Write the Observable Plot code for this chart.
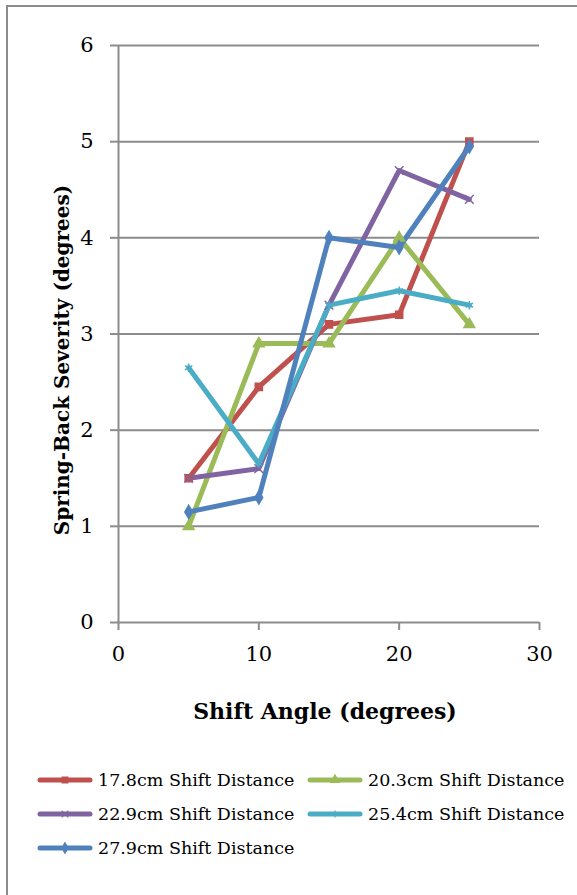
<!DOCTYPE html>
<html><head><meta charset="utf-8">
<script src="https://cdn.jsdelivr.net/npm/d3@7"></script>
<script src="https://cdn.jsdelivr.net/npm/@observablehq/plot@0.6"></script>
<style>
body{margin:0;background:#fff;}
#wrap{position:relative;width:577px;height:895px;overflow:hidden;font-family:"DejaVu Serif",serif;background:#fff;}
#border{position:absolute;left:6px;top:5px;width:700px;height:1000px;border-top:2px solid #8c8c8c;border-left:2px solid #8c8c8c;}
#chart{position:absolute;left:0;top:0;}
.item{position:absolute;height:20px;display:flex;align-items:center;font-size:17.5px;color:#000;white-space:nowrap;}
.item svg{margin-right:5px;}
</style></head>
<body>
<div id="wrap"><div id="border"></div><div id="chart"></div><div id="legend"></div></div>
<script>
const angles = [5, 10, 15, 20, 25];
const seriesNames = ["17.8cm Shift Distance", "20.3cm Shift Distance", "22.9cm Shift Distance", "25.4cm Shift Distance", "27.9cm Shift Distance"];
const s178 = [1.5, 2.45, 3.1, 3.2, 5.0];
const s203 = [1.0, 2.9, 2.9, 4.0, 3.1];
const s229 = [1.5, 1.6, 3.3, 4.7, 4.4];
const s254 = [2.65, 1.65, 3.3, 3.45, 3.3];
const s279 = [1.15, 1.3, 4.0, 3.9, 4.95];
const yTicks = [0, 1, 2, 3, 4, 5, 6];
const xTicks = [0, 10, 20, 30];
const xTitle = "Shift Angle (degrees)";
const yTitle = "Spring-Back Severity (degrees)";
const colors = ["#C0504D", "#9BBB59", "#8064A2", "#4BACC6", "#4F81BD"];
const symbols = ["square", "triangle", "times", "asterisk", "diamond"];

const allValues = [s178, s203, s229, s254, s279];
const data = [];
allValues.forEach((vals, i) => vals.forEach((v, j) => data.push({series: seriesNames[i], angle: angles[j], value: v})));

const font = "'DejaVu Serif', serif";
const chart = Plot.plot({
  width: 577, height: 745,
  marginLeft: 118, marginRight: 38, marginTop: 45, marginBottom: 123,
  x: {domain: [0, 30]},
  y: {domain: [0, 6]},
  color: {domain: seriesNames, range: colors},
  symbol: {domain: seriesNames, range: symbols},
  style: {fontFamily: font, background: "transparent", color: "black"},
  marks: [
    Plot.gridY(yTicks, {stroke: "#8c8c8c", strokeOpacity: 1, strokeWidth: 2}),
    Plot.ruleX([0], {stroke: "#8c8c8c", strokeWidth: 2}),
    Plot.axisY(yTicks, {tickSize: 8, tickPadding: 17, tickFormat: d3.format("d"), stroke: "#8c8c8c", strokeWidth: 2, fill: "black", fontSize: 21, label: null}),
    Plot.axisX(xTicks, {tickSize: 8, tickPadding: 16, tickFormat: d3.format("d"), stroke: "#8c8c8c", strokeWidth: 2, fill: "black", fontSize: 21, label: null}),
    Plot.line(data, {x: "angle", y: "value", z: "series", stroke: "series", strokeWidth: 5, strokeLinejoin: "round", strokeLinecap: "round"}),
    Plot.dot(data, {x: "angle", y: "value", symbol: "series", stroke: "series", fill: "series", r: 4, strokeWidth: 1.5}),
    Plot.text([xTitle], {frameAnchor: "bottom", dy: 96, dx: -4, text: d => d, fontSize: 22, fontWeight: "bold", fill: "black", textAnchor: "middle"}),
    Plot.text([yTitle], {frameAnchor: "left", rotate: -90, dx: -56, dy: 26, text: d => d, fontSize: 20, fontWeight: "bold", fill: "black", textAnchor: "middle"})
  ]
});
document.getElementById("chart").appendChild(chart);

// legend
const symMap = {square: d3.symbolSquare, triangle: d3.symbolTriangle, times: d3.symbolTimes, asterisk: d3.symbolAsterisk, diamond: d3.symbolDiamond};
const legendPos = [[37, 780], [307, 780], [37, 814], [307, 814], [37, 848]];
const legend = document.getElementById("legend");
seriesNames.forEach((name, i) => {
  const div = document.createElement("div");
  div.className = "item";
  div.style.left = legendPos[i][0] + "px";
  div.style.top = (legendPos[i][1] - 10) + "px";
  const svg = d3.create("svg").attr("width", 56).attr("height", 14);
  svg.append("line").attr("x1", 3).attr("x2", 53).attr("y1", 7).attr("y2", 7)
    .attr("stroke", colors[i]).attr("stroke-width", 5).attr("stroke-linecap", "round");
  svg.append("path").attr("transform", "translate(28,7)")
    .attr("d", d3.symbol(symMap[symbols[i]], 32)())
    .attr("fill", colors[i]).attr("stroke", colors[i]).attr("stroke-width", 1.2);
  div.appendChild(svg.node());
  const span = document.createElement("span");
  span.textContent = name;
  div.appendChild(span);
  legend.appendChild(div);
});
</script>
</body></html>
